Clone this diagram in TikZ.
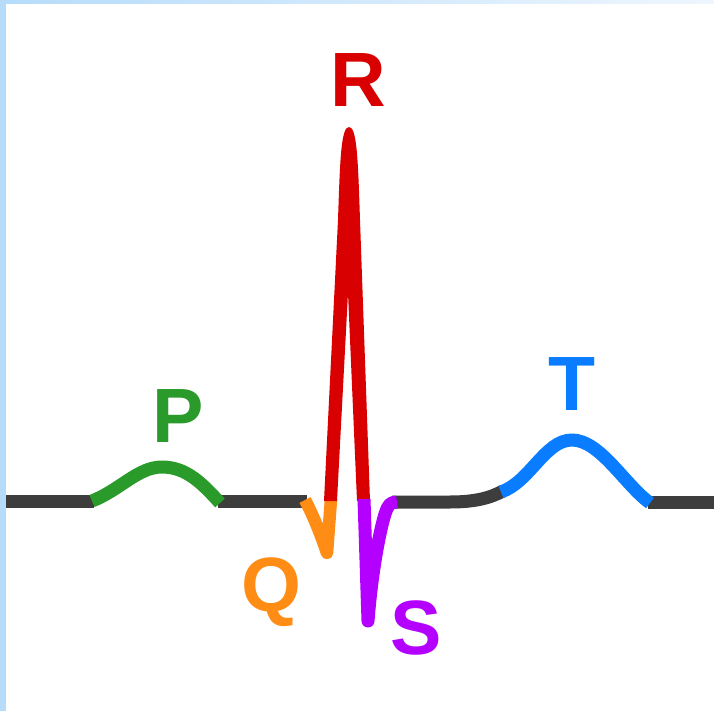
\documentclass[tikz,border=0pt]{standalone}
\usepackage{fontspec}
\setmainfont{Liberation Sans}
\definecolor{dk}{RGB}{61,61,61}
\definecolor{pg}{RGB}{42,154,42}
\definecolor{rr}{RGB}{216,0,0}
\definecolor{qo}{RGB}{255,140,20}
\definecolor{sp}{RGB}{180,0,255}
\definecolor{tb}{RGB}{10,124,255}
\definecolor{edgeblue}{RGB}{182,220,250}
\definecolor{edgelight}{RGB}{238,246,254}
\tikzset{
  wave/.style={line width=13pt, line join=round},
  lbl/.style={anchor=base, inner sep=0pt, font=\fontsize{77}{80}\selectfont\bfseries},
}
\begin{document}
\begin{tikzpicture}[x=1pt,y=-1pt]
\useasboundingbox (0,0) rectangle (714,711);
\fill[white] (0,0) rectangle (714,711);
\fill[edgeblue] (0,0) rectangle (6,711);
\shade[left color=edgeblue, right color=edgelight] (0,0) rectangle (714,4);
% baseline segments
\draw[wave, dk] (6,501) -- (94,501);
\draw[wave, dk] (218,501) -- (307,501);
\draw[wave, dk] (392,502) -- (450,502) .. controls (475,502) and (490,498) .. (503,491);
\draw[wave, dk] (648,502) -- (714,502);
% P
\draw[wave, pg] (92,501) .. controls (120,490) and (138,467) .. (162,467) .. controls (186,467) and (202,483) .. (220,503);
% Q
\draw[wave, qo, line width=12.5pt] (305,500) .. controls (313,515) and (321,535) .. (327,553) -- (331,499);
% R
\fill[rr] (324,501) -- (338,220) .. controls (340,160) and (341,127) .. (349,127)
  .. controls (357,127) and (358,160) .. (360,220) -- (370,501) -- (357,501)
  -- (348,293) -- (337,501) -- cycle;
% S
\draw[wave, sp, line width=13pt] (364,499) -- (368,621) .. controls (372,570) and (380,530) .. (385,514) .. controls (388,505) and (390,502) .. (397,502);
% T
\draw[wave, tb] (501,492) .. controls (530,482) and (545,440) .. (572,440) .. controls (600,440) and (625,485) .. (650,503);
% labels
\node[lbl, text=rr] (labR) at (358,107) {R};
\node[lbl, text=pg] (labP) at (178,442) {P};
\node[lbl, text=tb] (labT) at (572,410) {T};
\node[lbl, text=qo] (labQ) at (271,611) {Q};
\node[lbl, text=sp] (labS) at (416,654) {S};
\end{tikzpicture}
\end{document}
